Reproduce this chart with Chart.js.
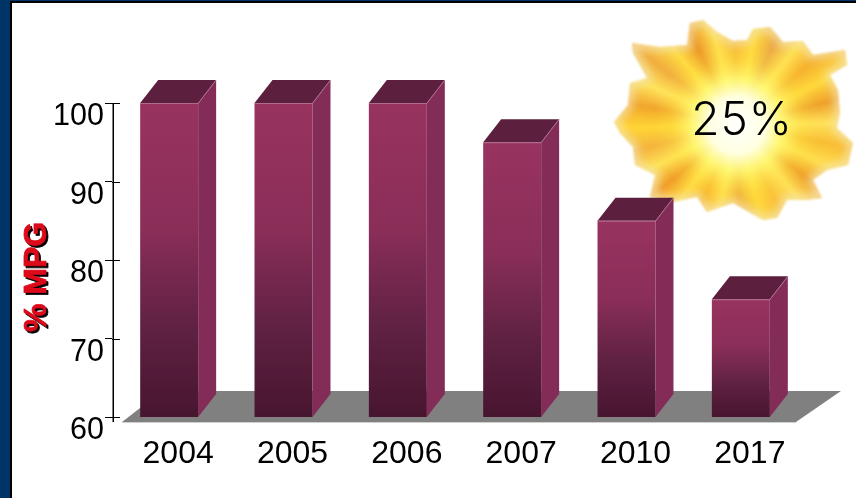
<!DOCTYPE html>
<html>
<head>
<meta charset="utf-8">
<script src="https://cdn.jsdelivr.net/npm/chart.js@4"></script>
<style>
  html, body { margin: 0; padding: 0; background: #003366; overflow: hidden; }
  #panel { position: absolute; left: 10px; top: 1px; width: 846px; height: 497px; background: #fff;
           border-left: 2px solid #000; border-top: 2px solid #000; box-sizing: border-box; }
  canvas { position: absolute; left: 0; top: 0; }
</style>
</head>
<body>
<div id="panel"></div>
<canvas id="myChart" width="856" height="498"></canvas>
<script>
var years = ['2004', '2005', '2006', '2007', '2010', '2017'];
var mpg = [100, 100, 100, 95, 85, 75];
var yTitle = '% MPG';
var burstLabel = '25%';

var FONT = '"Liberation Sans", Arial, sans-serif';
var DEPTH_X = 18, DEPTH_Y = 23;

// outline of the burst picture behind the last bars
var burstShape = [[632,43],[660,47],[687,45],[690,23],[703,20],[717,32],[733,41],[747,40],[753,29],[770,27],
  [783,42],[803,41],[813,55],[845,50],[847,65],[830,75],[838,90],[840,113],[837,128],[853,143],[848,165],
  [827,170],[813,180],[822,198],[807,200],[787,200],[777,218],[763,220],[733,203],[707,212],[697,197],
  [673,202],[650,197],[655,175],[635,165],[633,147],[620,133],[614,122],[628,105],[630,83],[647,78],[633,53]];

function tracePoly(c, pts) {
  c.beginPath();
  pts.forEach(function(p, i) { if (i) c.lineTo(p[0], p[1]); else c.moveTo(p[0], p[1]); });
  c.closePath();
}

function drawBurst(ctx) {
  var cx = 737, cy = 125;
  var off = document.createElement('canvas');
  off.width = 856; off.height = 498;
  var c = off.getContext('2d');
  var con = c.createConicGradient(0.2, cx, cy);
  var rays = ['#f9bd34','#ffdf4e','#ef9f28','#ffe25a','#fac03a','#ffd93a','#eda638','#ffe050','#f7b22a','#ffdc42',
    '#f09c28','#ffe356','#f4b43e','#ffd636','#f2a52c','#ffe45c','#f1ad3e','#ffdc40','#ec9828','#ffe150',
    '#f7b836','#ffdb3e','#eca944','#ffe254','#f6b02e','#ffd93c','#efa02c','#ffe35a'];
  rays.forEach(function(col, i) { con.addColorStop(i / rays.length, col); });
  con.addColorStop(1, rays[0]);
  c.fillStyle = con;
  tracePoly(c, burstShape);
  c.fill();
  // pale soft rim
  c.save();
  tracePoly(c, burstShape);
  c.clip();
  c.filter = 'blur(4px)';
  c.strokeStyle = 'rgba(245,228,175,0.85)';
  c.lineWidth = 9;
  tracePoly(c, burstShape);
  c.stroke();
  c.restore();
  // hot centre
  var rad = c.createRadialGradient(cx, cy, 0, cx, cy, 84);
  rad.addColorStop(0, 'rgba(255,255,255,1)');
  rad.addColorStop(0.34, 'rgba(255,255,225,1)');
  rad.addColorStop(0.55, 'rgba(255,252,120,0.85)');
  rad.addColorStop(0.8, 'rgba(255,232,70,0.3)');
  rad.addColorStop(1, 'rgba(255,220,60,0)');
  c.globalCompositeOperation = 'source-atop';
  c.fillStyle = rad;
  c.fillRect(0, 0, 856, 498);
  ctx.save();
  ctx.filter = 'blur(1.2px)';
  ctx.drawImage(off, 0, 0);
  ctx.restore();
}

function poly(ctx, pts, fill) {
  tracePoly(ctx, pts);
  ctx.fillStyle = fill;
  ctx.fill();
}

var decor = {
  id: 'decor',
  beforeDatasetsDraw: function(chart) {
    var ctx = chart.ctx, a = chart.chartArea;
    var y = chart.scales.y;
    ctx.save();
    // floor
    poly(ctx, [[a.left + 10, a.bottom + 5], [a.left + 50, a.bottom - 26], [a.right + 43, a.bottom - 26], [a.right - 2, a.bottom + 5]], '#808080');
    ctx.strokeStyle = '#cfcfcf';
    ctx.lineWidth = 1;
    ctx.beginPath();
    ctx.moveTo(a.left + 10, a.bottom + 5.5);
    ctx.lineTo(a.right - 2, a.bottom + 5.5);
    ctx.stroke();
    // axis sits a pixel in, ticks cross it and it runs on a little below 60
    ctx.strokeStyle = '#000';
    ctx.lineWidth = 1;
    y.ticks.forEach(function(t) {
      var py = Math.round(y.getPixelForValue(t.value)) + 0.5;
      ctx.beginPath();
      ctx.moveTo(a.left, py);
      ctx.lineTo(a.left + 8, py);
      ctx.stroke();
    });
    ctx.lineWidth = 1.5;
    ctx.beginPath();
    ctx.moveTo(a.left + 1.25, a.top);
    ctx.lineTo(a.left + 1.25, a.bottom + 5);
    ctx.stroke();
    drawBurst(ctx);
    // axis title with its hard shadow
    ctx.translate(37, 277);
    ctx.rotate(-Math.PI / 2);
    ctx.font = 'bold 32px ' + FONT;
    ctx.textAlign = 'center';
    ctx.textBaseline = 'middle';
    ctx.lineJoin = 'round';
    ctx.lineWidth = 0.8;
    ctx.fillStyle = ctx.strokeStyle = '#000';
    ctx.fillText(yTitle, -2, 2);
    ctx.strokeText(yTitle, -2, 2);
    ctx.fillStyle = ctx.strokeStyle = '#dc0a1a';
    ctx.fillText(yTitle, 0, 0);
    ctx.strokeText(yTitle, 0, 0);
    ctx.restore();
  },
  afterDatasetsDraw: function(chart) {
    var ctx = chart.ctx, b = chart.scales.y.bottom;
    ctx.save();
    chart.getDatasetMeta(0).data.forEach(function(bar) {
      var r = bar.x + bar.width / 2, l = bar.x - bar.width / 2, t = bar.y;
      poly(ctx, [[r, t], [r + DEPTH_X, t - DEPTH_Y], [r + DEPTH_X, b - DEPTH_Y], [r, b]], '#832c58');
      poly(ctx, [[l, t], [l + DEPTH_X, t - DEPTH_Y], [r + DEPTH_X, t - DEPTH_Y], [r, t]], '#5c1f3d');
      ctx.strokeStyle = 'rgba(190,130,160,0.7)';
      ctx.lineWidth = 1;
      ctx.beginPath();
      ctx.moveTo(l, t + 0.5);
      ctx.lineTo(r, t + 0.5);
      ctx.lineTo(r + DEPTH_X, t - DEPTH_Y);
      ctx.stroke();
    });
    // label on the burst
    ctx.font = '300 46px Inter, ' + FONT;
    ctx.letterSpacing = '1px';
    ctx.textAlign = 'center';
    ctx.textBaseline = 'middle';
    ctx.fillStyle = '#000';
    ctx.fillText(burstLabel, 742, 121);
    ctx.restore();
  }
};

function barFill(context) {
  var chart = context.chart;
  if (!chart.chartArea || context.raw === undefined) return '#832c58';
  var y = chart.scales.y;
  var g = chart.ctx.createLinearGradient(0, y.getPixelForValue(context.raw), 0, y.bottom);
  g.addColorStop(0, '#98335f');
  g.addColorStop(0.4, '#8a2e58');
  g.addColorStop(0.7, '#612243');
  g.addColorStop(1, '#47152f');
  return g;
}

var ctx = document.getElementById('myChart').getContext('2d');
var chart = new Chart(ctx, {
  type: 'bar',
  data: {
    labels: years,
    datasets: [{ data: mpg, backgroundColor: barFill, borderWidth: 0 }]
  },
  plugins: [decor],
  options: {
    responsive: false,
    animation: false,
    layout: { padding: { left: 0, right: 58, top: 103, bottom: 21 } },
    plugins: { legend: { display: false }, tooltip: { enabled: false } },
    datasets: { bar: { categoryPercentage: 1, barPercentage: 0.507 } },
    scales: {
      x: {
        afterFit: function(s) { s.height = 60; },
        grid: { display: false },
        border: { display: false },
        ticks: { color: '#000', font: { family: FONT, size: 32 }, labelOffset: 9, padding: 10, maxRotation: 0 }
      },
      y: {
        min: 60, max: 100,
        afterFit: function(s) { s.width = 112; },
        border: { display: false },
        grid: { drawOnChartArea: false, color: '#000', tickLength: 7 },
        ticks: { stepSize: 10, color: '#000', font: { family: FONT, size: 30.5 }, labelOffset: 14, padding: 1 }
      }
    }
  }
});
</script>
</body>
</html>
